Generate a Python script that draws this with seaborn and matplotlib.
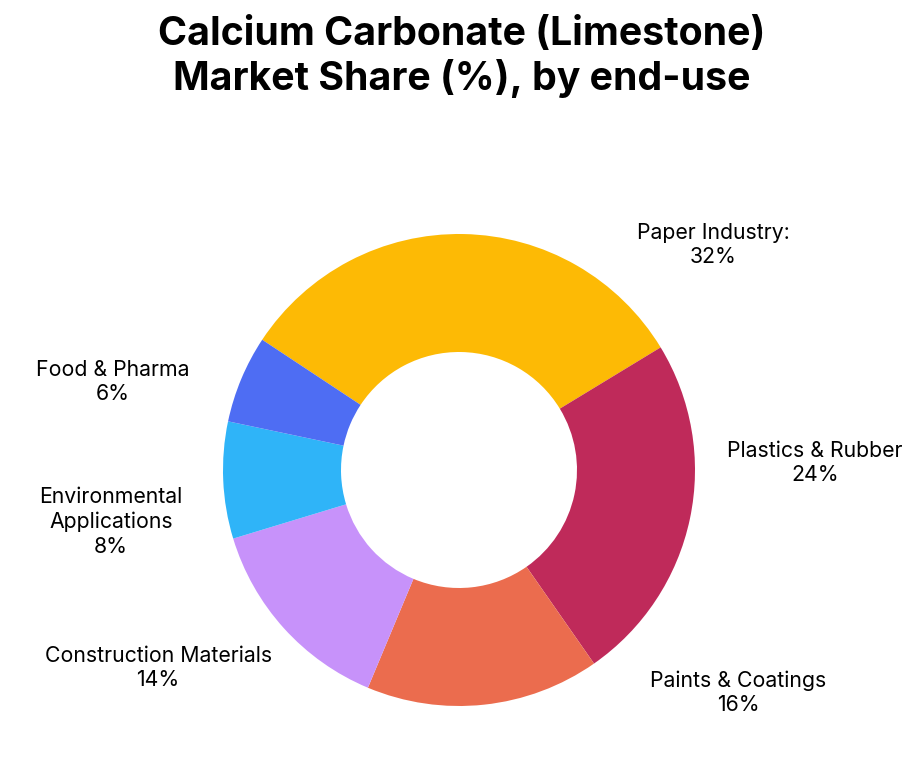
import matplotlib
matplotlib.use("Agg")
import matplotlib.pyplot as plt
import seaborn as sns

# data
segments = ["Paper Industry:", "Plastics & Rubber", "Paints & Coatings",
            "Construction Materials", "Environmental\nApplications", "Food & Pharma"]
shares = [32, 24, 16, 14, 8, 6]
colors = ["#FDBA05", "#BF2A5A", "#EB6C4E", "#C792FA", "#2FB4F8", "#4E6DF3"]

# label spots (data units, pie radius = 1)
label_x = [1.076, 1.508, 1.182, -1.275, -1.475, -1.466]
label_y = [0.953, 0.03, -0.945, -0.839, -0.22, 0.373]

sns.set_theme(style="white")
plt.rcParams['font.family'] = ['Inter', 'DejaVu Sans']

fig = plt.figure(figsize=(9.23, 7.58), dpi=100)
ax = fig.add_axes([0, 0, 1, 1])

ax.pie(shares, colors=sns.color_palette(colors), startangle=146.5, counterclock=False,
       wedgeprops=dict(width=0.5, linewidth=0))

for name, val, x, y in zip(segments, shares, label_x, label_y):
    ax.text(x, y, f"{name}\n{val}%", ha="center", va="center",
            fontsize=15.3, linespacing=1.27, color="black")

# center at px (459, 470 from top), 236 px per unit
ax.set_xlim(-459 / 236, (923 - 459) / 236)
ax.set_ylim(-(758 - 470) / 236, 470 / 236)
ax.set_aspect("auto")
ax.axis("off")

fig.text(0.5, 0.925, "Calcium Carbonate (Limestone)\nMarket Share (%), by end-use",
         ha="center", va="center", fontsize=28.3, fontweight="bold",
         linespacing=1.2, color="black")

fig.savefig("out.png", dpi=100)
